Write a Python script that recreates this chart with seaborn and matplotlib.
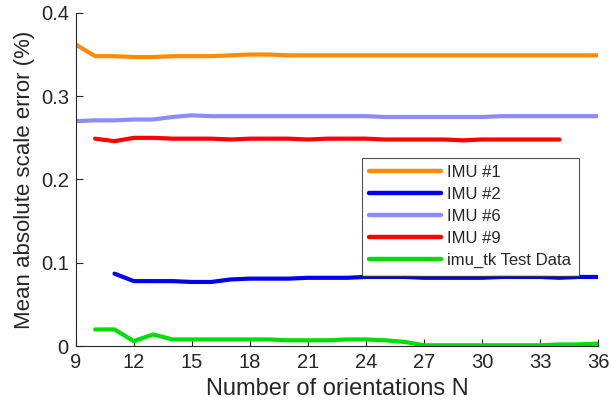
import matplotlib
matplotlib.use("Agg")
import matplotlib.pyplot as plt
import seaborn as sns
import pandas as pd
import numpy as np

# values
n_imu1 = list(range(9, 37))
imu1 = [0.362, 0.348, 0.348, 0.347, 0.347, 0.348, 0.348, 0.348, 0.349, 0.350,
        0.350, 0.349, 0.349, 0.349, 0.349, 0.349, 0.349, 0.349, 0.349, 0.349,
        0.349, 0.349, 0.349, 0.349, 0.349, 0.349, 0.349, 0.349]

n_imu2 = list(range(11, 37))
imu2 = [0.087, 0.078, 0.078, 0.078, 0.077, 0.077, 0.080, 0.081, 0.081, 0.081,
        0.082, 0.082, 0.082, 0.083, 0.083, 0.083, 0.082, 0.082, 0.082, 0.082,
        0.083, 0.083, 0.083, 0.082, 0.083, 0.083]

n_imu6 = list(range(9, 37))
imu6 = [0.270, 0.271, 0.271, 0.272, 0.272, 0.275, 0.277, 0.276, 0.276, 0.276,
        0.276, 0.276, 0.276, 0.276, 0.276, 0.276, 0.275, 0.275, 0.275, 0.275,
        0.275, 0.275, 0.276, 0.276, 0.276, 0.276, 0.276, 0.276]

n_imu9 = list(range(10, 35))
imu9 = [0.249, 0.246, 0.250, 0.250, 0.249, 0.249, 0.249, 0.248, 0.249, 0.249,
        0.249, 0.248, 0.249, 0.249, 0.249, 0.248, 0.248, 0.248, 0.248, 0.247,
        0.248, 0.248, 0.248, 0.248, 0.248]

n_imutk = list(range(10, 37))
imutk = [0.020, 0.020, 0.006, 0.014, 0.008, 0.008, 0.008, 0.008, 0.008, 0.008,
         0.007, 0.007, 0.007, 0.008, 0.008, 0.007, 0.005, 0.001, 0.001, 0.001,
         0.001, 0.001, 0.001, 0.001, 0.002, 0.002, 0.003]

series_names = ["IMU #1", "IMU #2", "IMU #6", "IMU #9", "imu_tk Test Data"]
colors = ["#FF8C00", "#0000F0", "#8C8CFF", "#FF0000", "#00DD00"]

frames = []
for name, n, v in zip(series_names,
                      [n_imu1, n_imu2, n_imu6, n_imu9, n_imutk],
                      [imu1, imu2, imu6, imu9, imutk]):
    frames.append(pd.DataFrame({"N": n, "err": v, "series": name}))
data = pd.concat(frames, ignore_index=True)

sns.set_style("ticks")
plt.rcParams["font.family"] = ["Liberation Sans", "DejaVu Sans"]

fig, ax = plt.subplots(figsize=(6.11, 4.15), dpi=100)

sns.lineplot(data=data, x="N", y="err", hue="series", hue_order=series_names,
             palette=colors, linewidth=3, ax=ax)

ax.set_xlim(9, 36)
ax.set_ylim(0, 0.4)
ax.set_xticks(np.arange(9, 37, 3))
ax.set_yticks([0, 0.1, 0.2, 0.3, 0.4])
ax.set_yticklabels(["0", "0.1", "0.2", "0.3", "0.4"])
ax.tick_params(direction="in", labelsize=14.5, colors="#262626", length=5, pad=5)
ax.set_xlabel("Number of orientations N", fontsize=17, color="#262626", labelpad=4)
ax.set_ylabel("Mean absolute scale error (%)", fontsize=16, color="#262626",
              labelpad=4)
for s in ["left", "bottom"]:
    ax.spines[s].set_color("#262626")
sns.despine(ax=ax)

leg = ax.legend(loc="upper right", bbox_to_anchor=(0.963, 0.565), fontsize=12,
                frameon=True, fancybox=False, edgecolor="#262626",
                handlelength=4.3, handletextpad=0.4, borderaxespad=0,
                labelspacing=0.42, borderpad=0.45)
leg.get_frame().set_linewidth(0.8)
for line in leg.get_lines():
    line.set_linewidth(3.2)

fig.subplots_adjust(left=0.124, right=0.979, top=0.969, bottom=0.166)
fig.savefig("out.png", dpi=100)
